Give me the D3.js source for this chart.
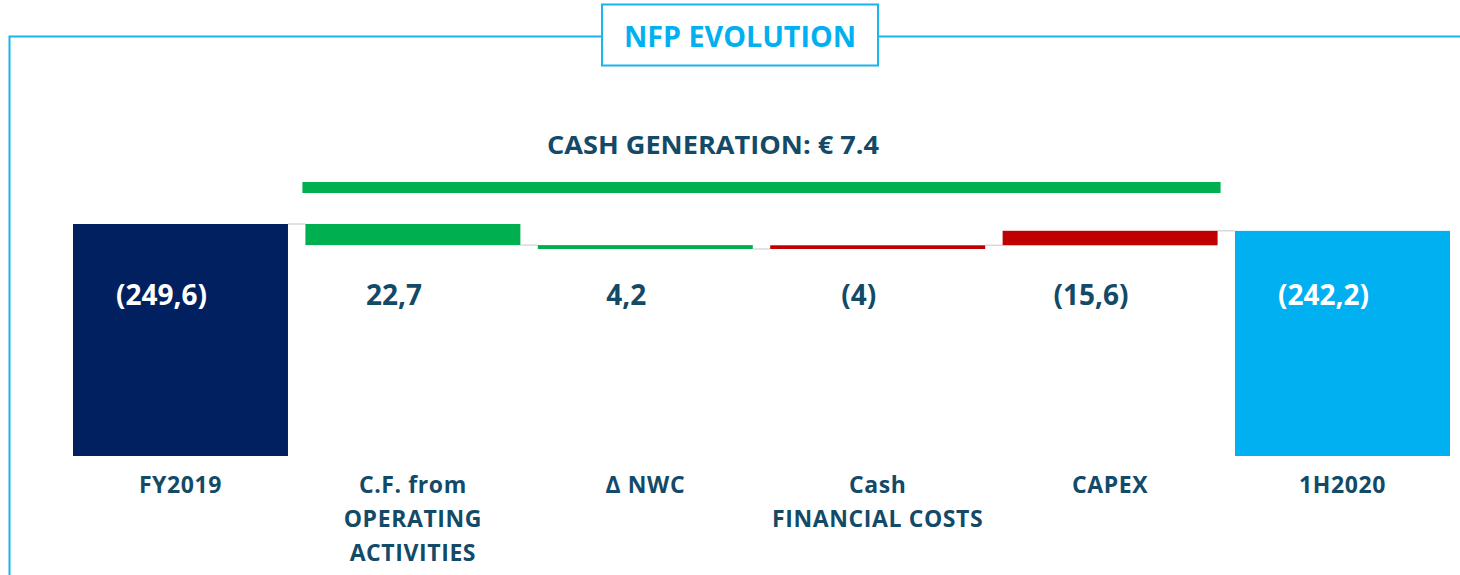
<!DOCTYPE html>
<html>
<head>
<meta charset="utf-8">
<script src="https://cdn.jsdelivr.net/npm/d3@7"></script>
<style>
  body { margin: 0; background: #fff; }
  svg { display: block; font-family: "Open Sans", "Noto Sans", sans-serif; }
</style>
</head>
<body>
<svg id="chart" width="1460" height="575"></svg>
<script>
const categories = ["FY2019", "C.F. from|OPERATING|ACTIVITIES", "Δ NWC", "Cash|FINANCIAL COSTS", "CAPEX", "1H2020"];
const values = [249.6, -22.7, -4.2, 4.0, 15.6, 242.2];   // NFP magnitude moves
const valueLabels = ["(249,6)", "22,7", "4,2", "(4)", "(15,6)", "(242,2)"];
const barKinds = ["total", "good", "good", "bad", "bad", "total"];
const cashGeneration = "CASH GENERATION: € 7.4";

const colors = { first: "#002060", last: "#00b0f0", good: "#00b050", bad: "#c00000" };
const textDark = "#134a68";
const frameBlue = "#1ab4ee";

const svg = d3.select("#chart");
const W = 1460;

// build waterfall steps
let level = 0;
const steps = values.map((v, i) => {
  let start, end;
  if (barKinds[i] === "total") { start = 0; end = v; level = v; }
  else { start = level; end = level + v; level = end; }
  return { i, cat: categories[i], label: valueLabels[i], kind: barKinds[i], start, end };
});

const x = d3.scaleBand().domain(d3.range(categories.length)).range([73, 1450]).paddingInner(0.075).paddingOuter(0);
const y = d3.scaleLinear().domain([0, 249.6]).range([456, 224]);

// frame
svg.append("path")
  .attr("d", `M9.5,575 V36.5 H601 M878,36.5 H${W}`)
  .attr("fill", "none").attr("stroke", frameBlue).attr("stroke-width", 2);

svg.append("rect").attr("x", 602).attr("y", 4.5).attr("width", 276).attr("height", 61)
  .attr("fill", "#fff").attr("stroke", frameBlue).attr("stroke-width", 2);
svg.append("text").attr("x", 740).attr("y", 47).attr("text-anchor", "middle")
  .attr("fill", "#00b0f0").attr("font-size", 29).attr("font-weight", 700)
  .attr("textLength", 232).attr("lengthAdjust", "spacingAndGlyphs")
  .text("NFP EVOLUTION");

// cash generation bracket
svg.append("text").attr("x", 713).attr("y", 154).attr("text-anchor", "middle")
  .attr("fill", textDark).attr("font-size", 25).attr("font-weight", 700)
  .attr("textLength", 332).attr("lengthAdjust", "spacingAndGlyphs")
  .text(cashGeneration);
svg.append("rect").attr("x", x(1) - 3).attr("y", 182)
  .attr("width", x(4) + x.bandwidth() - x(1) + 6).attr("height", 11)
  .attr("fill", colors.good);

// connectors
const g = svg.append("g");
steps.slice(0, -1).forEach((s, k) => {
  g.append("line")
    .attr("x1", x(k) + x.bandwidth()).attr("x2", x(k + 1))
    .attr("y1", y(s.end)).attr("y2", y(s.end))
    .attr("stroke", "#d9d9d9").attr("stroke-width", 1.5);
});

// bars
g.selectAll("rect.bar").data(steps).join("rect")
  .attr("class", "bar")
  .attr("x", d => x(d.i))
  .attr("width", x.bandwidth())
  .attr("y", d => y(Math.max(d.start, d.end)))
  .attr("height", d => Math.max(2, Math.abs(y(d.start) - y(d.end))))
  .attr("fill", d => d.kind === "total" ? (d.i === 0 ? colors.first : colors.last) : colors[d.kind]);

// value labels
g.selectAll("text.val").data(steps).join("text")
  .attr("class", "val")
  .attr("x", d => x(d.i) + x.bandwidth() / 2 - 19)
  .attr("y", 305)
  .attr("text-anchor", "middle")
  .attr("font-size", 28).attr("font-weight", 700)
  .attr("fill", d => d.kind === "total" ? "#fff" : textDark)
  .text(d => d.label);

// category labels
steps.forEach(d => {
  const cx = x(d.i) + x.bandwidth() / 2;
  const t = g.append("text")
    .attr("x", cx)
    .attr("y", 493)
    .attr("text-anchor", "middle")
    .attr("font-size", 23).attr("font-weight", 700)
    .attr("letter-spacing", 0.6)
    .attr("fill", textDark);
  d.cat.split("|").forEach((line, j) => {
    t.append("tspan").attr("x", cx).attr("dy", j === 0 ? 0 : 34).text(line);
  });
});
</script>
</body>
</html>
